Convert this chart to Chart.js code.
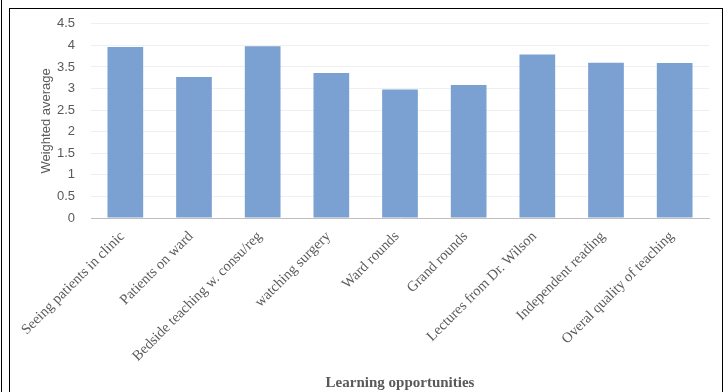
<!DOCTYPE html>
<html>
<head>
<meta charset="utf-8">
<script src="https://cdn.jsdelivr.net/npm/chart.js@4/dist/chart.umd.min.js"></script>
<style>
  html, body { margin: 0; padding: 0; background: #fff; }
  #wrap { position: relative; width: 726px; height: 392px; overflow: hidden; }
  #frame { position: absolute; left: 9px; top: 8px; width: 712px; height: 420px; border: 1px solid #000; }
  #edge { position: absolute; left: 1px; top: 0; width: 1px; height: 392px; background: #000; }
  canvas { position: absolute; left: 0; top: 0; }
</style>
</head>
<body>
<div id="wrap">
  <canvas id="chart" width="726" height="392"></canvas>
  <div id="frame"></div>
  <div id="edge"></div>
</div>
<script>
// survey results
const categories = [
  'Seeing patients in clinic',
  'Patients on ward',
  'Bedside teaching w. consu/reg',
  'watching surgery',
  'Ward rounds',
  'Grand rounds',
  'Lectures from Dr. Wilson',
  'Independent reading',
  'Overal quality of teaching'
];
const weightedAverage = [3.96, 3.27, 3.98, 3.36, 2.98, 3.08, 3.79, 3.60, 3.59];
const yMin = 0;
const yMax = 4.5;
const yStep = 0.5;

const ctx = document.getElementById('chart');

new Chart(ctx, {
  type: 'bar',
  data: {
    labels: categories,
    datasets: [{
      label: 'Weighted average',
      data: weightedAverage,
      backgroundColor: '#7BA1D2',
      borderWidth: 0,
      categoryPercentage: 1,
      barPercentage: 0.52
    }]
  },
  options: {
    responsive: false,
    animation: false,
    layout: { padding: { left: 0, right: 17, top: 20, bottom: 0 } },
    plugins: {
      legend: { display: false },
      tooltip: { enabled: false }
    },
    scales: {
      x: {
        grid: { display: false, drawTicks: false },
        border: { display: true, color: '#BFBFBF', width: 1 },
        ticks: {
          color: '#595959',
          font: { family: 'Liberation Serif', size: 14.5 },
          minRotation: 45,
          maxRotation: 45,
          autoSkip: false,
          padding: 10,
          labelOffset: -3
        },
        title: {
          display: true,
          text: 'Learning opportunities',
          color: '#595959',
          font: { family: 'Liberation Serif', size: 15, weight: 'bold' },
          padding: { top: 0, bottom: 0 }
        },
        afterFit: (scale) => { scale.height = 174; }
      },
      y: {
        min: yMin,
        max: yMax,
        grid: {
          drawTicks: false,
          color: (c) => c.tick && c.tick.value === 0 ? 'rgba(0,0,0,0)' : '#EFEFEF'
        },
        border: { display: false },
        ticks: {
          stepSize: yStep,
          color: '#595959',
          font: { family: 'Liberation Sans', size: 13 },
          padding: 16,
          callback: (v) => String(Number(v.toFixed(1)))
        },
        title: {
          display: true,
          text: 'Weighted average',
          color: '#595959',
          font: { family: 'Liberation Sans', size: 13 },
          padding: { top: 39, bottom: 0 }
        },
        afterFit: (scale) => { scale.width = 91; }
      }
    }
  }
});
</script>
</body>
</html>
